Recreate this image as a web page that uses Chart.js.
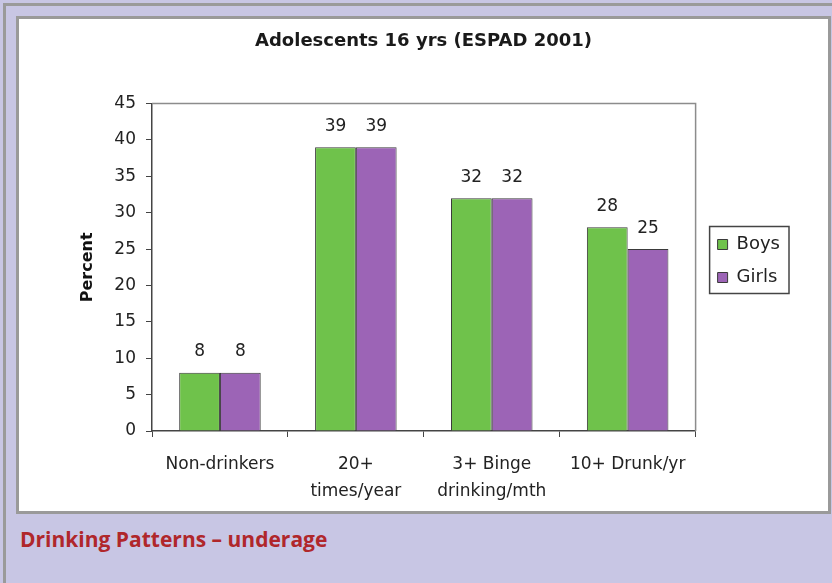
<!DOCTYPE html>
<html>
<head>
<meta charset="utf-8">
<script src="https://cdn.jsdelivr.net/npm/chart.js@4.4.1/dist/chart.umd.min.js"></script>
<style>
  body { margin: 0; background: #c8c6e4; width: 832px; height: 583px; overflow: hidden; position: relative; }
  #frame { position: absolute; left: 3px; top: 3px; width: 840px; height: 600px; border-left: 3px solid #9a9a9a; border-top: 3px solid #9a9a9a; }
  #panel { position: absolute; left: 16px; top: 16px; width: 809px; height: 492px; border: 3px solid #9a9a9a; background: #fff; }
  #caption { position: absolute; left: 20px; top: 525px; line-height: 28px; font-family: 'Open Sans', sans-serif; font-weight: 700; font-size: 21px; color: #b0272b; }
</style>
</head>
<body>
<div id="frame"></div>
<div id="panel"><canvas id="grafico" width="809" height="492"></canvas></div>
<div id="caption">Drinking Patterns – underage</div>
<script>
const categorias = ['Non-drinkers', ['20+', 'times/year'], ['3+ Binge', 'drinking/mth'], '10+ Drunk/yr'];
const boys = [8, 39, 32, 28];
const girls = [8, 39, 32, 25];
const yMin = 0, yMax = 45, yStep = 5;

const fonte = "'DejaVu Sans', Verdana, sans-serif";
Chart.defaults.font.family = fonte;
Chart.defaults.color = '#222';

// numbers above the bars
const rotulos = {
  id: 'rotulos',
  afterDatasetsDraw(chart) {
    const ctx = chart.ctx;
    ctx.save();
    ctx.font = '17px ' + fonte;
    ctx.fillStyle = '#222';
    ctx.textAlign = 'center';
    ctx.textBaseline = 'middle';
    chart.data.datasets.forEach((ds, i) => {
      chart.getDatasetMeta(i).data.forEach((bar, j) => {
        ctx.fillText(ds.data[j], bar.x, bar.y - 21);
      });
    });
    ctx.restore();
  }
};

// top/right frame of plot + box around legend
const molduras = {
  id: 'molduras',
  afterLayout(chart) {
    // push legend a bit away from the plot, centre title on whole canvas
    chart.legend.left += 7;
    chart.legend.right += 7;
    chart.titleBlock.left = 0;
    chart.titleBlock.right = chart.width;
  },
  beforeDatasetsDraw(chart) {
    const a = chart.chartArea, ctx = chart.ctx;
    ctx.save();
    ctx.strokeStyle = '#8c8c8c';
    ctx.lineWidth = 1.5;
    ctx.beginPath();
    ctx.moveTo(a.left, a.top);
    ctx.lineTo(a.right, a.top);
    ctx.lineTo(a.right, a.bottom);
    ctx.stroke();
    ctx.restore();
  },
  afterDraw(chart) {
    const boxes = chart.legend.legendHitBoxes;
    if (!boxes || !boxes.length) return;
    let l = Infinity, t = Infinity, r = -Infinity, b = -Infinity;
    boxes.forEach(h => {
      l = Math.min(l, h.left); t = Math.min(t, h.top);
      r = Math.max(r, h.left + h.width); b = Math.max(b, h.top + h.height);
    });
    const ctx = chart.ctx;
    ctx.save();
    ctx.strokeStyle = '#444';
    ctx.lineWidth = 1.5;
    ctx.strokeRect(l - 8, t - 9, r - l + 17, b - t + 16);
    ctx.restore();
  }
};

const ctx = document.getElementById('grafico').getContext('2d');

const grafico = new Chart(ctx, {
  type: 'bar',
  data: {
    labels: categorias,
    datasets: [{
      label: 'Boys',
      data: boys,
      backgroundColor: '#6fc24b',
      borderColor: '#3a3a3a',
      borderWidth: 1
    }, {
      label: 'Girls',
      data: girls,
      backgroundColor: '#9c64b6',
      borderColor: '#3a3a3a',
      borderWidth: 1
    }]
  },
  options: {
    responsive: false,
    animation: false,
    categoryPercentage: 0.6,
    barPercentage: 1,
    layout: { padding: { left: 0, right: 45, top: 0, bottom: 8 } },
    plugins: {
      title: {
        display: true,
        text: 'Adolescents 16 yrs (ESPAD 2001)',
        font: { size: 18, weight: 'bold' },
        color: '#1a1a1a',
        padding: { top: 12, bottom: 51 }
      },
      legend: {
        position: 'right',
        labels: {
          boxWidth: 10,
          boxHeight: 10,
          padding: 15,
          font: { size: 18 },
          color: '#222',
          useBorderRadius: false
        }
      },
      tooltip: { enabled: false }
    },
    scales: {
      x: {
        afterFit(scale) { scale.height = 72; },
        grid: { drawOnChartArea: false, drawTicks: true, tickLength: 6, color: '#444', offset: true },
        border: { color: '#444', width: 1.5 },
        ticks: { font: { size: 17, lineHeight: 1.6 }, color: '#222', padding: 14, maxRotation: 0 }
      },
      y: {
        min: yMin,
        max: yMax,
        afterFit(scale) { scale.width = 133; },
        grid: { drawOnChartArea: false, drawTicks: true, tickLength: 6, color: '#444' },
        border: { color: '#444', width: 1.5 },
        ticks: { stepSize: yStep, font: { size: 17 }, color: '#222', padding: 10 },
        title: {
          display: true,
          text: 'Percent',
          font: { size: 16, weight: 'bold' },
          color: '#111',
          padding: { top: 59, bottom: 0 }
        }
      }
    }
  },
  plugins: [rotulos, molduras]
});
</script>
</body>
</html>
